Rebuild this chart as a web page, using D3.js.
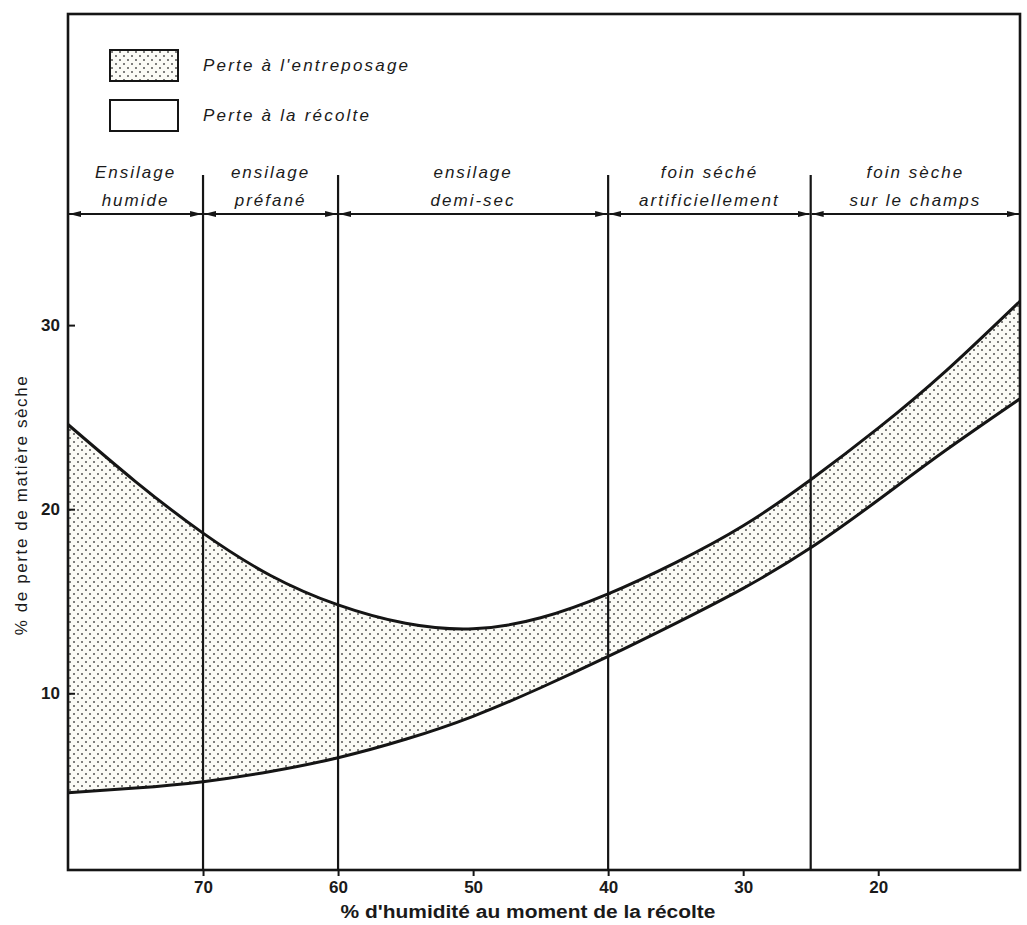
<!DOCTYPE html>
<html>
<head>
<meta charset="utf-8">
<script src="https://cdn.jsdelivr.net/npm/d3@7/dist/d3.min.js"></script>
<style>
  body { margin: 0; background: #fff; }
  text { font-family: "Liberation Sans", Arial, sans-serif; fill: #1a1a1a; }
</style>
</head>
<body>
<div id="graph"></div>
<script>
// Pertes de matière sèche selon l'humidité à la récolte

// data
let humidity     = [80, 75, 70, 65, 60, 55, 50, 45, 40, 35, 30, 25, 20, 15, 9.5];
let totalLoss    = [24.6, 21.5, 18.7, 16.4, 14.8, 13.8, 13.5, 14.1, 15.4, 17.1, 19.1, 21.6, 24.4, 27.5, 31.3];
let harvestLoss  = [4.6, 4.85, 5.2, 5.75, 6.5, 7.5, 8.75, 10.3, 12.0, 13.8, 15.7, 17.9, 20.5, 23.2, 26.0];

let zoneEdges = [80, 70, 60, 40, 25, 9.5];
let zoneNames = [
  ["Ensilage", "humide"],
  ["ensilage", "préfané"],
  ["ensilage", "demi-sec"],
  ["foin séché", "artificiellement"],
  ["foin sèche", "sur le champs"]
];
let xTicks = [70, 60, 50, 40, 30, 20];
let yTicks = [10, 20, 30];
let legendLabels = ["Perte à l'entreposage", "Perte à la récolte"];

let svgWidth = 1027;
let svgHeight = 925;

let svg = d3.select("#graph")
  .append("svg")
  .attr("width", svgWidth)
  .attr("height", svgHeight);

// scales (x reversed: wet on the left)
let xScale = d3.scaleLinear().domain([80, 9.5]).range([68, 1020]);
let yScale = d3.scaleLinear().domain([0.4, 46.9]).range([870, 14]);

let ink = "#151515";

// dotted fill pattern
let defs = svg.append("defs");
let pat = defs.append("pattern")
  .attr("id", "dots")
  .attr("patternUnits", "userSpaceOnUse")
  .attr("width", 8)
  .attr("height", 8);
pat.append("rect").attr("width", 8).attr("height", 8).attr("fill", "#fbfbf6");
pat.append("circle").attr("cx", 2).attr("cy", 2).attr("r", 1).attr("fill", "#555");
pat.append("circle").attr("cx", 6).attr("cy", 6).attr("r", 1).attr("fill", "#555");

// arrow markers
defs.append("marker")
  .attr("id", "arrEnd")
  .attr("viewBox", "0 0 12 8")
  .attr("refX", 12).attr("refY", 4)
  .attr("markerWidth", 12).attr("markerHeight", 8)
  .attr("markerUnits", "userSpaceOnUse")
  .attr("orient", "auto")
  .append("path").attr("d", "M0,1 L12,4 L0,7 Z").attr("fill", ink);
defs.append("marker")
  .attr("id", "arrStart")
  .attr("viewBox", "0 0 12 8")
  .attr("refX", 0).attr("refY", 4)
  .attr("markerWidth", 12).attr("markerHeight", 8)
  .attr("markerUnits", "userSpaceOnUse")
  .attr("orient", "auto")
  .append("path").attr("d", "M12,1 L0,4 L12,7 Z").attr("fill", ink);

let points = humidity.map((h, i) => ({ h: h, top: totalLoss[i], low: harvestLoss[i] }));

// storage loss band
let band = d3.area()
  .x(d => xScale(d.h))
  .y0(d => yScale(d.low))
  .y1(d => yScale(d.top))
  .curve(d3.curveNatural);

svg.append("path")
  .datum(points)
  .attr("d", band)
  .attr("fill", "url(#dots)");

// curves
let topLine = d3.line().x(d => xScale(d.h)).y(d => yScale(d.top)).curve(d3.curveNatural);
let lowLine = d3.line().x(d => xScale(d.h)).y(d => yScale(d.low)).curve(d3.curveNatural);

svg.append("path").datum(points).attr("d", topLine)
  .attr("fill", "none").attr("stroke", ink).attr("stroke-width", 3);
svg.append("path").datum(points).attr("d", lowLine)
  .attr("fill", "none").attr("stroke", ink).attr("stroke-width", 3);

// zone dividers
let arrowY = 214;
svg.selectAll(".divider")
  .data(zoneEdges.slice(1, -1))
  .enter()
  .append("line")
  .attr("class", "divider")
  .attr("x1", d => xScale(d)).attr("x2", d => xScale(d))
  .attr("y1", 175).attr("y2", yScale(0.4))
  .attr("stroke", ink).attr("stroke-width", 2.2);

// double arrows for each zone
svg.selectAll(".zoneArrow")
  .data(zoneNames)
  .enter()
  .append("line")
  .attr("class", "zoneArrow")
  .attr("x1", (d, i) => xScale(zoneEdges[i]) + 1)
  .attr("x2", (d, i) => xScale(zoneEdges[i + 1]) - 1)
  .attr("y1", arrowY).attr("y2", arrowY)
  .attr("stroke", ink).attr("stroke-width", 2)
  .attr("marker-start", "url(#arrStart)")
  .attr("marker-end", "url(#arrEnd)");

let zoneMid = (d, i) => (xScale(zoneEdges[i]) + xScale(zoneEdges[i + 1])) / 2;
let zoneText = svg.selectAll(".zoneLabel")
  .data(zoneNames)
  .enter()
  .append("text")
  .attr("class", "zoneLabel")
  .attr("text-anchor", "middle")
  .attr("font-size", "17px")
  .attr("font-style", "italic")
  .attr("letter-spacing", "2px");
zoneText.append("tspan").attr("x", zoneMid).attr("y", 178).text(d => d[0]);
zoneText.append("tspan").attr("x", zoneMid).attr("y", 206).text(d => d[1]);

// frame
svg.append("rect")
  .attr("x", xScale(80)).attr("y", yScale(46.9))
  .attr("width", xScale(9.5) - xScale(80))
  .attr("height", yScale(0.4) - yScale(46.9))
  .attr("fill", "none").attr("stroke", ink).attr("stroke-width", 2.6);

// axes
let xAxis = d3.axisBottom(xScale).tickValues(xTicks).tickSize(6).tickPadding(5);
let yAxis = d3.axisLeft(yScale).tickValues(yTicks).tickSize(-7).tickPadding(8);

let gx = svg.append("g")
  .attr("transform", `translate(0, ${yScale(0.4)})`)
  .call(xAxis);
let gy = svg.append("g")
  .attr("transform", `translate(${xScale(80)}, 0)`)
  .call(yAxis);

[gx, gy].forEach(g => {
  g.select(".domain").remove();
  g.selectAll("line").attr("stroke", ink).attr("stroke-width", 2);
  g.selectAll("text")
    .attr("font-family", "'Liberation Sans Narrow', 'Liberation Sans', Arial, sans-serif")
    .attr("font-size", "17px")
    .attr("font-weight", "bold")
    .attr("fill", "#2a2a2a");
});

// axis titles
svg.append("text")
  .attr("x", 528).attr("y", 918)
  .attr("text-anchor", "middle")
  .attr("font-family", "'Liberation Sans Narrow', 'Liberation Sans', Arial, sans-serif")
  .attr("font-size", "18px")
  .attr("font-weight", "bold")
  .attr("textLength", 375)
  .attr("lengthAdjust", "spacingAndGlyphs")
  .text("% d'humidité au moment de la récolte");

svg.append("text")
  .attr("transform", "translate(27, 505) rotate(-90)")
  .attr("text-anchor", "middle")
  .attr("font-size", "17px")
  .attr("letter-spacing", "1.6px")
  .text("% de perte de matière sèche");

// legend
let legend = svg.selectAll(".legend")
  .data(legendLabels)
  .enter()
  .append("g")
  .attr("class", "legend")
  .attr("transform", (d, i) => `translate(110, ${50 + i * 50})`);

legend.append("rect")
  .attr("width", 68).attr("height", 31)
  .attr("fill", (d, i) => i === 0 ? "url(#dots)" : "#fff")
  .attr("stroke", ink).attr("stroke-width", 2);

legend.append("text")
  .attr("x", 93).attr("y", 21)
  .attr("font-size", "17px")
  .attr("font-style", "italic")
  .attr("letter-spacing", "2.2px")
  .text(d => d);
</script>
</body>
</html>
